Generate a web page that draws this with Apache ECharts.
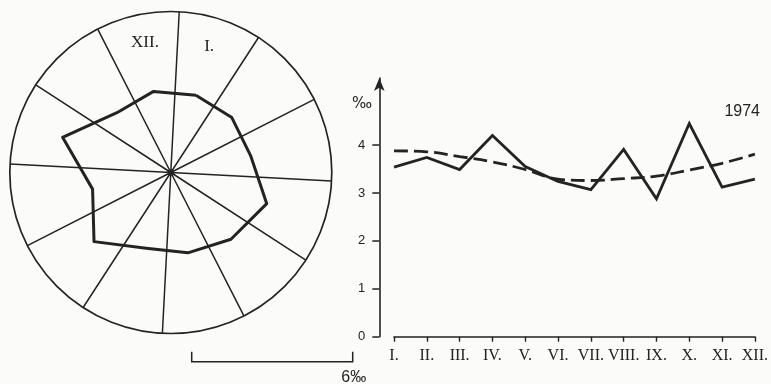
<!DOCTYPE html>
<html>
<head>
<meta charset="utf-8">
<script src="https://cdn.jsdelivr.net/npm/echarts@6/dist/echarts.min.js"></script>
<style>
  html, body { margin: 0; padding: 0; background: #fbfbf9; }
  #chart { width: 771px; height: 384px; }
</style>
</head>
<body>
<div id="chart"></div>
<script>
// ---- data ----
const months = ['I.', 'II.', 'III.', 'IV.', 'V.', 'VI.', 'VII.', 'VIII.', 'IX.', 'X.', 'XI.', 'XII.'];
const roseValues = [3.03, 3.06, 3.04, 3.76, 3.35, 3.06, 2.97, 3.85, 2.98, 4.24, 3.00, 3.09];
const monthlyValues = [3.54, 3.74, 3.49, 4.20, 3.55, 3.24, 3.07, 3.91, 2.88, 4.45, 3.12, 3.29];
const trendValues = [3.88, 3.86, 3.76, 3.65, 3.49, 3.29, 3.26, 3.30, 3.35, 3.48, 3.62, 3.81];
const yTickValues = [0, 1, 2, 3, 4];
const roseLabelMonths = ['XII.', 'I.'];
const roseScaleMax = 6;
const scaleLabel = '6‰';
const unitLabel = '‰';
const yearLabel = '1974';

// ---- layout / style ----
const ink = '#232323';
const R = 161;
const CX = 170.8, CY = 172.5;

const roseData = roseValues.map((v, i) => [v, i]);
roseData.push([roseValues[0], 0]);

const chart = echarts.init(document.getElementById('chart'), null, { renderer: 'canvas' });
const barX0 = 191.7, barY = 361.7;

chart.setOption({
  backgroundColor: '#fbfbf9',
  animation: false,
  title: [
    { text: yearLabel, right: 11, top: 104,
      textStyle: { fontFamily: 'Liberation Sans', fontSize: 16, fontWeight: 'normal', color: ink }, padding: 0 },
    { text: unitLabel, left: 352, top: 97,
      textStyle: { fontFamily: 'DejaVu Sans', fontSize: 15, fontWeight: 'normal', color: ink }, padding: 0 }
  ],
  polar: { center: [CX, CY], radius: R },
  angleAxis: {
    type: 'category',
    data: months,
    startAngle: 87,
    clockwise: true,
    boundaryGap: true,
    axisLine: { show: true, lineStyle: { color: ink, width: 1.7 } },
    axisTick: { show: false },
    splitLine: { show: true, lineStyle: { color: ink, width: 1.5 } },
    axisLabel: {
      interval: 0,
      margin: -37,
      fontFamily: 'Liberation Serif',
      fontSize: 17,
      color: ink,
      formatter: v => roseLabelMonths.indexOf(v) >= 0 ? v : ''
    }
  },
  radiusAxis: {
    type: 'value', min: 0, max: roseScaleMax,
    axisLine: { show: false }, axisTick: { show: false },
    axisLabel: { show: false }, splitLine: { show: false }
  },
  grid: { left: 394, right: 11.7, top: 78, bottom: 47.3 },
  xAxis: {
    type: 'category',
    data: months,
    boundaryGap: false,
    axisLine: { show: true, lineStyle: { color: ink, width: 1.6 } },
    axisTick: { show: true, length: 5, lineStyle: { color: ink, width: 1.4 } },
    axisLabel: { interval: 0, margin: 11, fontFamily: 'Liberation Serif', fontSize: 16, color: ink },
    splitLine: { show: false }
  },
  yAxis: {
    type: 'value',
    min: 0,
    max: 5.4,
    offset: 14.7,
    axisLine: { show: true, symbol: ['none', 'arrow'], symbolSize: [8, 13], lineStyle: { color: ink, width: 1.6 } },
    axisTick: { show: true, length: 7, customValues: yTickValues, lineStyle: { color: ink, width: 1.5 } },
    axisLabel: { customValues: yTickValues, margin: 14, fontFamily: 'Liberation Sans', fontSize: 13, color: ink },
    splitLine: { show: false }
  },
  series: [
    {
      type: 'line', coordinateSystem: 'polar', data: roseData,
      symbol: 'none', lineStyle: { color: ink, width: 3, join: 'round' }, z: 5
    },
    {
      type: 'scatter', coordinateSystem: 'polar', data: [[0, 0]],
      symbol: 'circle', symbolSize: 6, itemStyle: { color: ink }, z: 6
    },
    {
      type: 'line', data: monthlyValues, symbol: 'none',
      lineStyle: { color: ink, width: 2.8, join: 'miter' }
    },
    {
      type: 'line', data: trendValues, symbol: 'none', smooth: 0.4,
      lineStyle: { color: ink, width: 2.8, type: [14, 6] }
    }
  ],
  graphic: [
    {
      type: 'polyline',
      shape: { points: [[barX0, barY - 10], [barX0, barY], [barX0 + R, barY], [barX0 + R, barY - 10]] },
      style: { stroke: ink, lineWidth: 1.5, fill: null }
    },
    {
      type: 'text', x: barX0 + R + 1, y: 378,
      style: { text: scaleLabel, fontFamily: 'Liberation Sans', fontSize: 16, fill: ink, align: 'center', verticalAlign: 'middle' }
    }
  ]
});
</script>
</body>
</html>
